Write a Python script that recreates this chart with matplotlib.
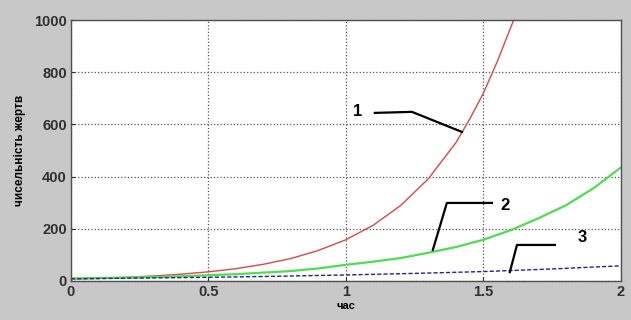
import matplotlib
matplotlib.use('Agg')
import matplotlib.pyplot as plt

# values
t1 = [0, 0.1, 0.2, 0.3, 0.4, 0.5, 0.6, 0.7, 0.8, 0.9, 1.0,
      1.1, 1.2, 1.3, 1.4, 1.45, 1.5, 1.55, 1.61]
y1 = [8, 10, 14, 19, 26, 35, 47, 64, 86, 117, 158,
      214, 290, 392, 530, 620, 720, 840, 1000]

t2 = [0, 0.1, 0.2, 0.3, 0.4, 0.5, 0.6, 0.7, 0.8, 0.9, 1.0,
      1.1, 1.2, 1.3, 1.4, 1.5, 1.6, 1.7, 1.8, 1.9, 2.0]
y2 = [10, 11, 13, 15, 18, 22, 26, 32, 38, 48, 62,
      74, 88, 108, 130, 158, 195, 240, 290, 355, 435]

t3 = [0, 0.25, 0.5, 0.75, 1.0, 1.25, 1.5, 1.75, 2.0]
y3 = [8, 11, 14, 18, 23, 29, 36, 46, 58]

labels = ['1', '2', '3']
label_pos = [(1.044, 648), (1.578, 291), (1.858, 165)]
leader_x = [[1.105, 1.24, 1.422], [1.316, 1.367, 1.531], [1.596, 1.622, 1.76]]
leader_y = [[644, 648, 571], [119, 299, 299], [34, 138, 138]]

xticks = [0, 0.5, 1, 1.5, 2]
xticklabels = ['0', '0.5', '1', '1.5', '2']
yticks = [0, 200, 400, 600, 800, 1000]

fig = plt.figure(figsize=(6.31, 3.2), dpi=100, facecolor='#c8c8c8')
ax = fig.add_axes([0.1125, 0.122, 0.8715, 0.8155])
ax.set_facecolor('white')

ax.plot(t1, y1, color='#d84848', lw=1.0)
ax.plot(t2, y2, color='#50dc50', lw=1.6)
ax.plot(t3, y3, color='#22228c', lw=1.0, ls='--', dashes=(3, 1.5))

for lab, (lx, ly), xs, ys in zip(labels, label_pos, leader_x, leader_y):
    ax.plot(xs, ys, color='black', lw=1.6)
    ax.text(lx, ly, lab, fontsize=12, fontweight='heavy', ha='center', va='center',
            family='Liberation Sans')

ax.set_xlim(0, 2)
ax.set_ylim(0, 1000)
ax.set_xticks(xticks)
ax.set_xticklabels(xticklabels)
ax.set_yticks(yticks)
ax.grid(True, color='#555555', ls=':', lw=0.9)
ax.tick_params(direction='in', length=3, labelsize=10.5, pad=3, colors='#303030')
for lab in ax.get_xticklabels() + ax.get_yticklabels():
    lab.set_fontweight('bold')
    lab.set_family('Liberation Sans')
for s in ax.spines.values():
    s.set_color('#505050')
    s.set_linewidth(1.0)

ax.set_xlabel('час', fontsize=8, fontweight='bold', labelpad=1, family='Liberation Sans')
ax.set_ylabel('чисельність жертв', fontsize=8.5, fontweight='bold', labelpad=6,
              family='Liberation Sans')

fig.savefig('out.png', dpi=100, facecolor=fig.get_facecolor())
